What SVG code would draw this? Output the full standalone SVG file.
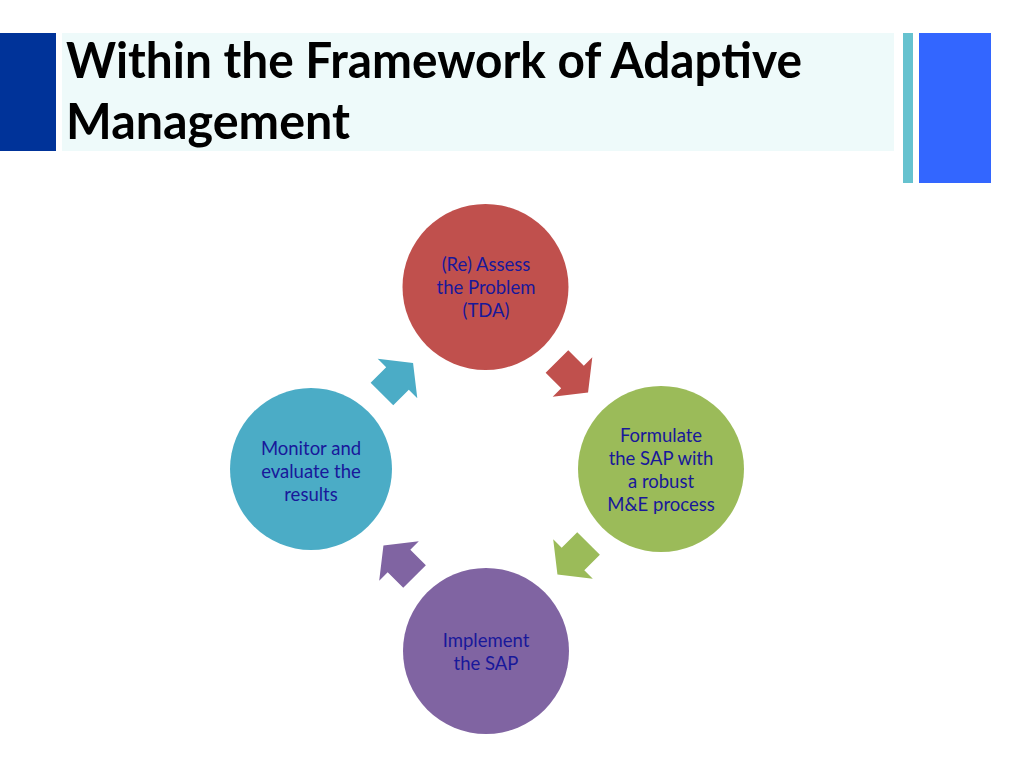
<svg xmlns="http://www.w3.org/2000/svg" width="1024" height="768" viewBox="0 0 1024 768">
<style>
.title{font-family:"Lato","Liberation Sans",sans-serif;font-weight:bold;font-size:49px;fill:#000000}
.lbl{font-family:"Lato","Open Sans","Liberation Sans",sans-serif;font-size:18.5px;fill:#18189a;text-anchor:middle}
</style>
<defs>
<polygon id="arr" points="-22,-16 0,-16 0,-28 22,0 0,28 0,16 -22,16"/>
</defs>
<rect width="1024" height="768" fill="#ffffff"/>
<g id="header">
<rect x="0" y="33" width="56" height="118" fill="#003399"/>
<rect x="62" y="33" width="832" height="118" fill="#eefafa"/>
<rect x="903" y="33" width="10" height="150" fill="#66c2cf"/>
<rect x="919" y="33" width="72" height="150" fill="#3366ff"/>
<text class="title" x="66" y="78" textLength="736" lengthAdjust="spacingAndGlyphs">Within the Framework of Adaptive</text>
<text class="title" x="66" y="139" textLength="284" lengthAdjust="spacingAndGlyphs">Management</text>
</g>
<g id="connectors">
<use href="#arr" transform="translate(572.5,377) rotate(45)" fill="#c0504d"/>
<use href="#arr" transform="translate(573,559) rotate(135)" fill="#9bbb59"/>
<use href="#arr" transform="translate(399,561) rotate(225)" fill="#8064a2"/>
<use href="#arr" transform="translate(397.5,378.5) rotate(315)" fill="#4bacc6"/>
</g>
<g id="node-assess">
<circle cx="485.5" cy="287" r="83" fill="#c0504d"/>
<text class="lbl" x="486" y="271">(Re) Assess</text>
<text class="lbl" x="486" y="294">the Problem</text>
<text class="lbl" x="486" y="317">(TDA)</text>
</g>
<g id="node-formulate">
<circle cx="661" cy="469" r="83" fill="#9bbb59"/>
<text class="lbl" x="661" y="442">Formulate</text>
<text class="lbl" x="661" y="465">the SAP with</text>
<text class="lbl" x="661" y="488">a robust</text>
<text class="lbl" x="661" y="511">M&amp;E process</text>
</g>
<g id="node-implement">
<circle cx="486" cy="651" r="83" fill="#8064a2"/>
<text class="lbl" x="486" y="647">Implement</text>
<text class="lbl" x="486" y="670">the SAP</text>
</g>
<g id="node-monitor">
<circle cx="311" cy="469" r="81" fill="#4bacc6"/>
<text class="lbl" x="311" y="455">Monitor and</text>
<text class="lbl" x="311" y="478">evaluate the</text>
<text class="lbl" x="311" y="501">results</text>
</g>
</svg>
